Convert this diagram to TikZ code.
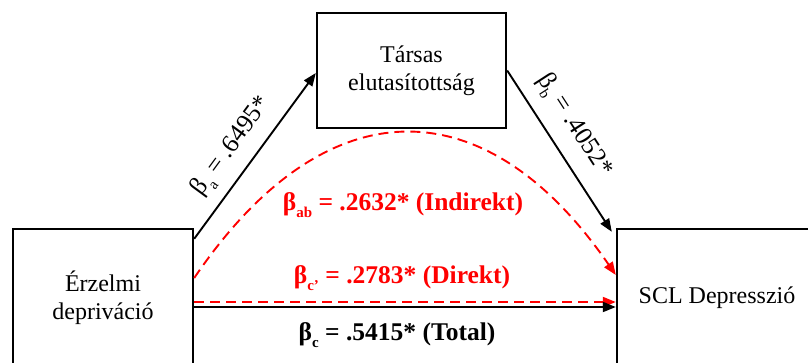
\documentclass[tikz,border=0pt]{standalone}
\usepackage{fontspec}
\setmainfont{Liberation Serif}
\usetikzlibrary{arrows.meta,calc}
\definecolor{myred}{RGB}{255,0,0}
\newcommand{\lsub}[1]{\raisebox{-0.28em}{\fontsize{15}{15}\selectfont #1}}
\begin{document}
\begin{tikzpicture}[x=1pt,y=-1pt,
  box/.style={draw=black, line width=2.4pt, inner sep=0pt, align=center,
    font=\fontsize{24}{28}\selectfont},
  blk/.style={draw=black, line width=1.9pt, -{Triangle[length=13pt,width=10pt]}},
  redd/.style={draw=myred, line width=1.9pt, dash pattern=on 10pt off 6pt,
    -{Triangle[length=13pt,width=10pt]}},
  lab/.style={inner sep=0pt, font=\fontsize{25.5}{30}\selectfont},
  blab/.style={inner sep=0pt, font=\bfseries\fontsize{25.5}{30}\selectfont}]
\useasboundingbox (0,0) rectangle (808,362);
\clip (0,0) rectangle (808,362);
\fill[white] (0,0) rectangle (808,362);

\node[box, minimum width=180pt, minimum height=138pt] (L) at (103,298) {Érzelmi\\depriváció};
\node[box, minimum width=189pt, minimum height=115pt] (T) at (411.5,70.5) {Társas\\elutasítottság};
\node[box, minimum width=200pt, minimum height=138pt] (R) at (717,298) {SCL Depresszió};

\draw[blk] ([yshift=-11pt]L.north east) -- node[lab, pos=0.47, sloped, yshift=24pt] {β\lsub{a} = .6495*} ([yshift=-2.5pt]T.west);
\draw[blk] (T.east) -- node[lab, pos=0.43, sloped, yshift=26pt] {β\lsub{b} = .4052*} ([xshift=-4pt,yshift=-4pt]R.north west);

\draw[redd] ([yshift=20pt]L.east) .. controls (325,85) and (485,85) .. ([yshift=23pt]R.west);
\draw[redd] ([yshift=-4pt]L.east) -- ([yshift=-4pt]R.west);
\draw[blk] ([yshift=-9pt]L.east) -- ([yshift=-9pt]R.west);

\node[blab, text=myred] (lab) at (403,205) {β\lsub{ab} = .2632* (Indirekt)};
\node[blab, text=myred] (lcp) at (402,278) {β\lsub{c’} = .2783* (Direkt)};
\node[blab] (lc) at (397,335) {β\lsub{c} = .5415* (Total)};
\end{tikzpicture}
\end{document}
